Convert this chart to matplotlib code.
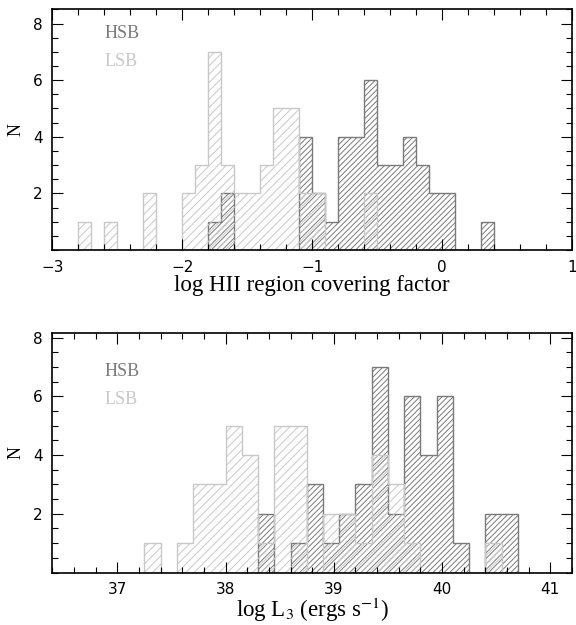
import numpy as np
import matplotlib.pyplot as plt
from matplotlib.ticker import MultipleLocator

plt.rcParams['mathtext.fontset'] = 'stix'
plt.rcParams['hatch.linewidth'] = 0.7

# log HII region covering factor: bins of 0.1 dex starting at -2.8
cf_start, cf_width = -2.8, 0.1
cf_hsb = [0, 0, 0, 0, 0, 0, 0, 0, 0, 0, 1, 2, 0, 0, 0, 0, 0,
          4, 2, 1, 4, 4, 6, 3, 3, 4, 3, 2, 2, 0, 0, 1]
cf_lsb = [1, 0, 1, 0, 0, 2, 0, 0, 2, 3, 7, 3, 2, 2, 3, 5, 5, 2, 2,
          0, 0, 0, 2, 0, 0, 0, 0, 0, 0, 0, 0, 0]

# log L3: bins of 0.15 dex starting at 37.25
lum_start, lum_width = 37.25, 0.15
lum_hsb = [0, 0, 0, 0, 0, 0, 0, 2, 0, 1, 3, 1, 2, 3, 7, 2, 6, 4, 6, 1, 0, 2, 2]
lum_lsb = [1, 0, 1, 3, 3, 5, 4, 1, 5, 5, 0, 2, 2, 1, 4, 3, 1, 0, 0, 0, 0, 1, 0]

hsb_color = '#7a7a7a'
lsb_color = '#c8c8c8'
serif = 'Liberation Serif'


def edges(start, width, n):
    return np.round(start + width * np.arange(n + 1), 3)


def panel(ax, start, width, hsb, lsb, xlim, ylim, xlabel, labelpad, legend_y):
    e = edges(start, width, len(hsb))
    ax.stairs(hsb, e, fill=True, facecolor='none', edgecolor=hsb_color,
              hatch='//////', linewidth=1.0)
    ax.stairs(lsb, e, fill=True, facecolor='none', edgecolor=lsb_color,
              hatch='////', linewidth=1.0)
    ax.set_xlim(*xlim)
    ax.set_ylim(*ylim)
    ax.xaxis.set_major_locator(MultipleLocator(1))
    ax.xaxis.set_minor_locator(MultipleLocator(0.2))
    ax.set_yticks([2, 4, 6, 8])
    ax.yaxis.set_minor_locator(MultipleLocator(0.5))
    ax.tick_params(which='both', direction='in', top=True, right=True,
                   labelsize=11, pad=7, width=0.8)
    ax.tick_params(which='major', length=8)
    ax.tick_params(which='minor', length=4)
    for s in ax.spines.values():
        s.set_linewidth(1.2)
    ax.set_xlabel(xlabel, fontsize=16.5, family=serif, labelpad=labelpad)
    ax.set_ylabel('N', fontsize=13, family=serif, labelpad=6)
    ax.text(0.10, legend_y[0], 'HSB', transform=ax.transAxes, color=hsb_color,
            fontsize=13, family=serif, va='center')
    ax.text(0.10, legend_y[1], 'LSB', transform=ax.transAxes, color=lsb_color,
            fontsize=13, family=serif, va='center')


fig = plt.figure(figsize=(5.76, 6.25), dpi=100)
ax1 = fig.add_axes([0.091, 0.600, 0.902, 0.385])
ax2 = fig.add_axes([0.091, 0.084, 0.902, 0.383])

panel(ax1, cf_start, cf_width, cf_hsb, cf_lsb, (-3, 1), (0, 8.5),
      'log HII region covering factor', 0, (0.90, 0.785))
panel(ax2, lum_start, lum_width, lum_hsb, lum_lsb, (36.4, 41.2), (0, 8.15),
      r'log L$_3$ (ergs s$^{-1}$)', -1, (0.841, 0.724))

fig.savefig('out.png', dpi=100)
